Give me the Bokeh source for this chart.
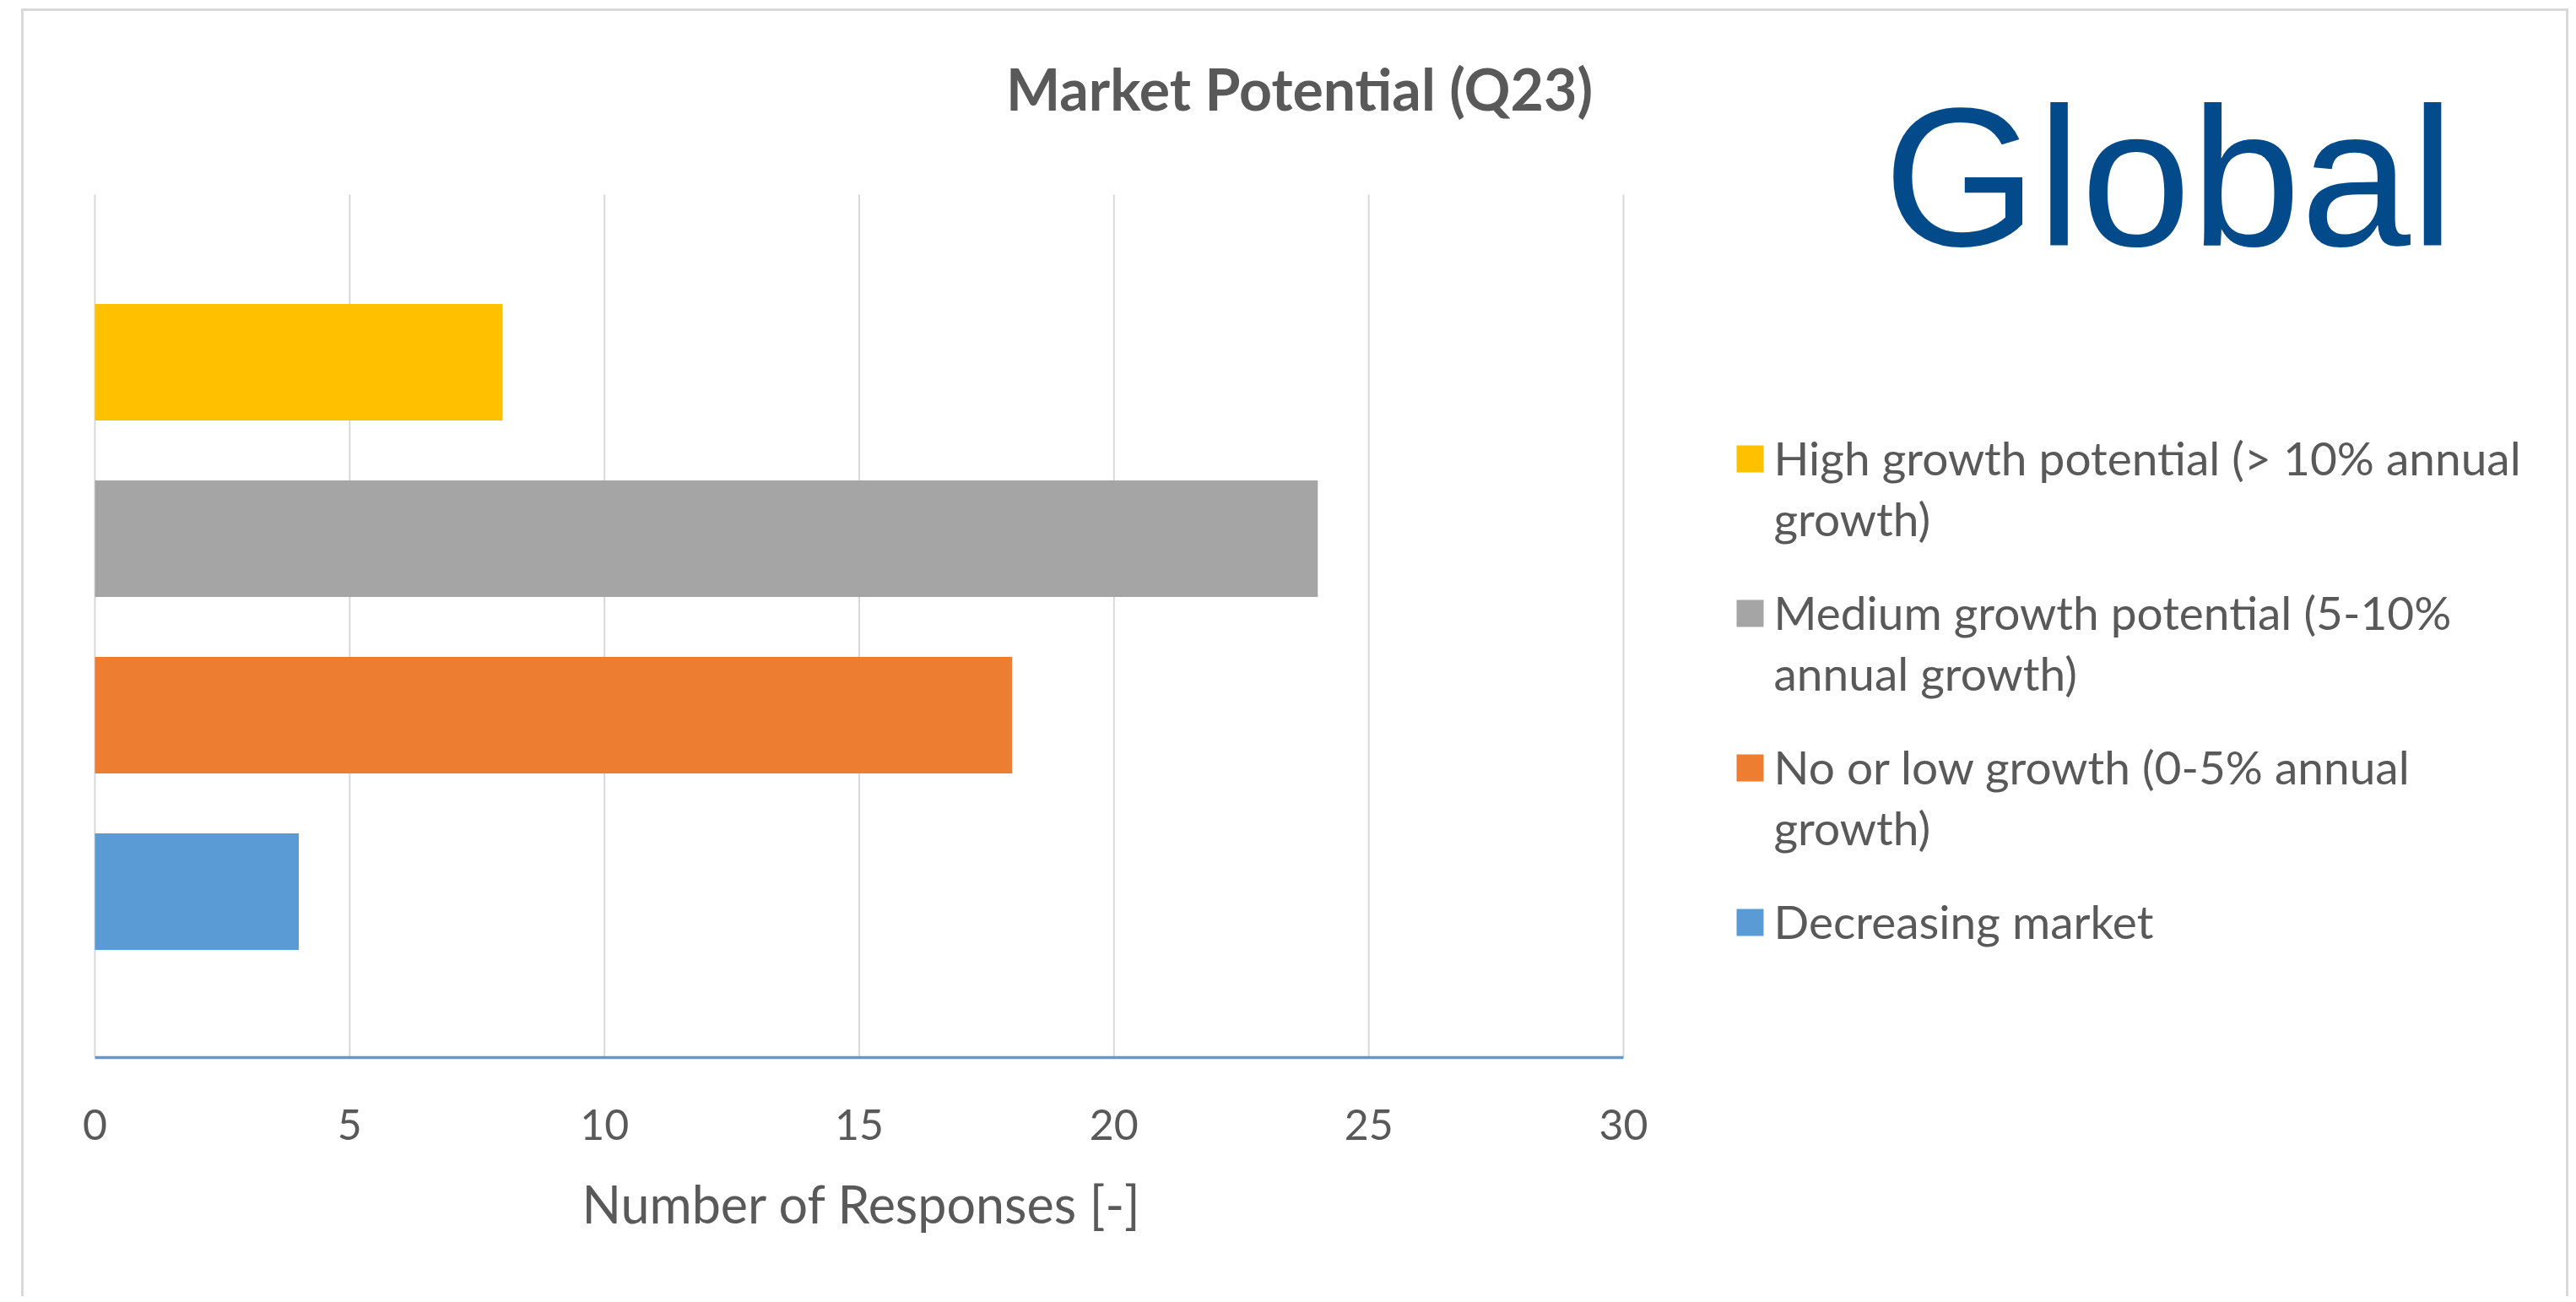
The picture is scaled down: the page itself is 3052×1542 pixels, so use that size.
from bokeh.plotting import figure
from bokeh.models import Range1d, Label, FixedTicker, ColumnDataSource, Title
from bokeh.core.properties import value
from bokeh.embed import file_html
from bokeh.resources import INLINE

# ---- data ----
categories = [
    "High growth potential (> 10% annual growth)",
    "Medium growth potential (5-10% annual growth)",
    "No or low growth (0-5% annual growth)",
    "Decreasing market",
]
legend_labels = [
    "High growth potential (> 10% annual\ngrowth)",
    "Medium growth potential (5-10%\nannual growth)",
    "No or low growth (0-5% annual\ngrowth)",
    "Decreasing market",
]
responses = [8, 24, 18, 4]
colors = ["#FFC000", "#A5A5A5", "#ED7D31", "#5B9BD5"]
x_ticks = [0, 5, 10, 15, 20, 25, 30]
title_text = "Market Potential (Q23)"
region_text = "Global"
x_title = "Number of Responses [-]"

# ---- layout (canvas pixels) ----
W, H = 3018, 1525
PL, PR, PT, PB = 84, 1895, 217, 1239   # plot area of the bars
X0, X1 = 0, 30
Y0, Y1 = 0.06, 4.95
TEXT = "#595959"


def dx(cx):
    return X0 + (cx - PL) * (X1 - X0) / (PR - PL)


def dy(cy):
    return Y1 - (cy - PT) * (Y1 - Y0) / (PB - PT)


p = figure(
    width=W, height=H,
    x_range=Range1d(dx(0), dx(W)), y_range=Range1d(Y0, dy(0)),
    output_backend="svg", toolbar_location=None,
    y_axis_location=None,
    min_border_left=0, min_border_right=0,
    min_border_top=0, min_border_bottom=H - PB,
    styles={
        "margin-left": "25px",
        "margin-top": "10px",
        "border-left": "3px solid #D9D9D9",
        "border-top": "3px solid #D9D9D9",
        "border-right": "3px solid #D9D9D9",
    },
)
p.outline_line_color = None
p.background_fill_color = "white"
p.border_fill_color = "white"
p.xgrid.visible = False
p.ygrid.visible = False

# vertical gridlines (only over the bar area)
p.segment(x0=x_ticks, y0=[Y0] * len(x_ticks), x1=x_ticks, y1=[Y1] * len(x_ticks),
          line_color="#D9D9D9", line_width=2, level="underlay")

n = len(categories)
source = ColumnDataSource(dict(
    y=[n - i for i in range(n)],
    right=responses,
    color=colors,
    cat=categories,
))
p.hbar(y="y", left=0, right="right", height=0.66, fill_color="color",
       line_color=None, source=source)

ax = p.xaxis[0]
ax.ticker = FixedTicker(ticks=x_ticks)
ax.bounds = (x_ticks[0], x_ticks[-1])
ax.axis_line_color = "#5B9BD5"
ax.axis_line_width = 3.5
ax.major_tick_line_color = None
ax.minor_tick_line_color = None
ax.major_label_text_font = "Lato"
ax.major_label_text_font_size = "50px"
ax.major_label_text_color = TEXT
ax.major_label_standoff = 55

# axis title below the axis, placed under the 0..30 span
p.add_layout(Title(text=x_title, align="left", offset=661, standoff=69,
                   text_font="Lato", text_font_size="61px",
                   text_font_style="normal", text_color=TEXT), "below")

# ---- legend (drawn manually so multi-line labels sit like the original) ----
ENTRY, LINE = 183, 72
sq_x, sq_y0 = 2045, 530
tx, ty0 = 2073, 528
p.rect(x=[dx(sq_x)] * n, y=[dy(sq_y0 + i * ENTRY) for i in range(n)],
       width=32, height=32, width_units="screen", height_units="screen",
       fill_color=colors, line_color=None)
lx, ly, lt = [], [], []
for i, lab in enumerate(legend_labels):
    for j, line in enumerate(lab.split("\n")):
        lx.append(dx(tx))
        ly.append(dy(ty0 + i * ENTRY + j * LINE))
        lt.append(line)
p.text(x=lx, y=ly, text=lt, text_font=value("Lato"), text_font_size="55px",
       text_color=TEXT, text_align="left", text_baseline="middle")

p.add_layout(Label(x=dx(1511), y=dy(91), text=title_text, text_align="center",
                   text_baseline="middle", text_font="Lato",
                   text_font_style="bold", text_font_size="68px",
                   text_color=TEXT))
p.add_layout(Label(x=dx(2203), y=dy(196), text=region_text, text_align="left",
                   text_baseline="middle", text_font="Liberation Sans",
                   text_font_size="234px", text_color="#034A8B"))

open("out.html", "w").write(file_html(p, INLINE))
